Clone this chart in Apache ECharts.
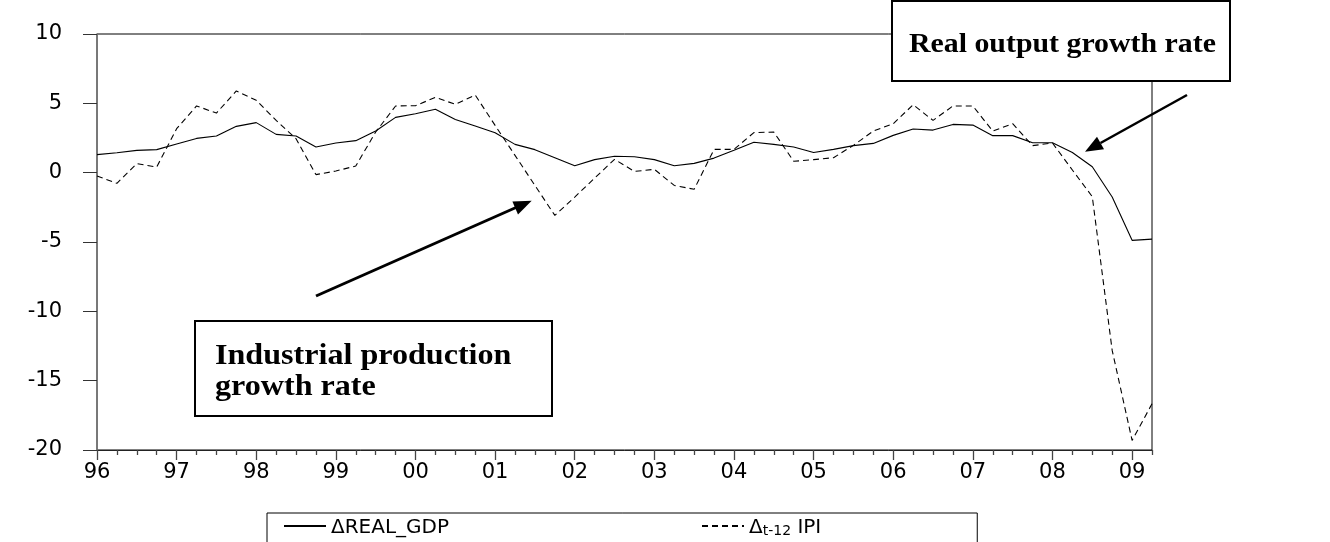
<!DOCTYPE html>
<html><head><meta charset="utf-8">
<script src="https://cdn.jsdelivr.net/npm/echarts@6/dist/echarts.min.js"></script>
<style>html,body{margin:0;padding:0;background:#fff}#c{width:1330px;height:542px}</style>
</head><body><div id="c"></div>
<script>
// Quarterly data, 1996Q1 .. 2009Q2
const yearLabels = ['96','97','98','99','00','01','02','03','04','05','06','07','08','09'];
const yTickValues = [-20, -15, -10, -5, 0, 5, 10];
const gdp = [1.30,1.44,1.61,1.66, 2.07,2.47,2.64,3.34, 3.61,2.76,2.64,1.85, 2.14,2.31,3.00,3.99,
             4.25,4.57,3.84,3.36, 2.88,2.04,1.66,1.08, 0.50,0.94,1.18,1.15, 0.94,0.50,0.67,1.05,
             1.61,2.19,2.04,1.85, 1.46,1.68,1.95,2.11, 2.69,3.15,3.07,3.48, 3.43,2.67,2.67,2.16,
             2.16,1.45,0.43,-1.76, -4.88,-4.79];
const ipi = [-0.24,-0.77,0.65,0.41, 3.17,4.81,4.30,5.89, 5.22,3.77,2.45,-0.14, 0.12,0.48,2.93,4.81,
             4.83,5.43,4.93,5.60, 3.41,1.25,-0.92,-3.08, -1.76,-0.39,0.96,0.09, 0.24,-0.92,-1.20,1.68,
             1.68,2.89,2.93,0.82, 0.94,1.08,1.97,3.00, 3.53,4.90,3.77,4.81, 4.81,3.00,3.53,1.95,
             2.14,0.19,-1.73,-12.82, -19.31,-16.67];
const seriesNames = ['ΔREAL_GDP', 'Δt-12 IPI'];

const nQ = gdp.length;
const majorTicks = [], minorTicks = [];
for (let i = 0; i < nQ; i++) { (i % 4 === 0 ? majorTicks : minorTicks).push(i); }

const chart = echarts.init(document.getElementById('c'), null, {renderer: 'canvas'});
const axisFont = 'DejaVu Sans';
const serif = '"Liberation Serif", "Times New Roman", serif';
const option = {
  backgroundColor: '#fff',
  animation: false,
  grid: {left: 97, right: 178, top: 34, bottom: 92, show: true, borderColor: '#000', borderWidth: 1, containLabel: false},
  xAxis: [{
    type: 'value', min: 0, max: nQ - 1, position: 'bottom',
    axisLine: {show: true, onZero: false, lineStyle: {color: '#222', width: 1}},
    axisTick: {show: true, length: 10, customValues: majorTicks, lineStyle: {color: '#444', width: 1.3}},
    axisLabel: {show: true, customValues: majorTicks, margin: 12, color: '#000', fontFamily: axisFont, fontSize: 21,
      formatter: v => yearLabels[Math.round(v / 4)]},
    splitLine: {show: false}
  }, {
    type: 'value', min: 0, max: nQ - 1, position: 'bottom',
    axisLine: {show: false, onZero: false},
    axisTick: {show: true, length: 5, customValues: minorTicks, lineStyle: {color: '#444', width: 1.3}},
    axisLabel: {show: false},
    splitLine: {show: false}
  }],
  yAxis: {
    type: 'value', min: yTickValues[0], max: yTickValues[yTickValues.length - 1], interval: 5,
    axisLine: {show: true, onZero: false, lineStyle: {color: '#777', width: 1.6}},
    axisTick: {show: true, length: 14, lineStyle: {color: '#333', width: 1}},
    axisLabel: {margin: 35, color: '#000', fontFamily: axisFont, fontSize: 21},
    splitLine: {show: false}
  },
  legend: {
    left: 267, top: 513,
    padding: [5, 156, 12, 16],
    itemWidth: 42, itemHeight: 14, itemGap: 252,
    borderColor: '#000', borderWidth: 1,
    itemStyle: {opacity: 0},
    data: seriesNames,
    formatter: function (name) {
      if (name === seriesNames[1]) return '{a|Δ}{s|t-12}{a| IPI}';
      return '{a|' + name + '}';
    },
    textStyle: {
      fontFamily: axisFont, fontSize: 20, color: '#000',
      rich: {
        a: {fontFamily: axisFont, fontSize: 20, lineHeight: 24, verticalAlign: 'bottom', color: '#000'},
        s: {fontFamily: axisFont, fontSize: 14, lineHeight: 14, verticalAlign: 'bottom', color: '#000'}
      }
    }
  },
  series: [{
    name: seriesNames[0], type: 'line', symbol: 'none', showSymbol: false,
    data: gdp.map((v, i) => [i, v]),
    lineStyle: {color: '#000', width: 1.1, type: 'solid'}, itemStyle: {color: '#000'}, z: 3
  }, {
    name: seriesNames[1], type: 'line', symbol: 'none', showSymbol: false,
    data: ipi.map((v, i) => [i, v]),
    lineStyle: {color: '#000', width: 1.1, type: [6, 4]}, itemStyle: {color: '#000'}, z: 3
  }],
  graphic: [
    {type: 'rect', z: 100, shape: {x: 892, y: 1, width: 338, height: 80}, style: {fill: '#fff', stroke: '#000', lineWidth: 2}},
    {type: 'text', z: 101, x: 909, y: 45, scaleX: 1.105, scaleY: 1,
      style: {text: 'Real output growth rate', font: 'bold 27px ' + serif, fill: '#000', textAlign: 'left', verticalAlign: 'middle'}},
    {type: 'rect', z: 100, shape: {x: 195, y: 321, width: 357, height: 95}, style: {fill: '#fff', stroke: '#000', lineWidth: 2}},
    {type: 'text', z: 101, x: 215, y: 356, scaleX: 1.07, scaleY: 1,
      style: {text: 'Industrial production', font: 'bold 30px ' + serif, fill: '#000', textAlign: 'left', verticalAlign: 'middle'}},
    {type: 'text', z: 101, x: 215, y: 387, scaleX: 1.07, scaleY: 1,
      style: {text: 'growth rate', font: 'bold 30px ' + serif, fill: '#000', textAlign: 'left', verticalAlign: 'middle'}},
    // arrow to industrial production line
    {type: 'line', z: 101, shape: {x1: 316, y1: 296, x2: 516, y2: 207.5}, style: {stroke: '#000', lineWidth: 3}},
    {type: 'polygon', z: 101, shape: {points: [[531.7, 200.7], [518.0, 214.4], [512.4, 201.6]]}, style: {fill: '#000'}},
    // arrow to real output line
    {type: 'line', z: 101, shape: {x1: 1187, y1: 95, x2: 1100.5, y2: 143}, style: {stroke: '#000', lineWidth: 2.5}},
    {type: 'polygon', z: 101, shape: {points: [[1085, 151.7], [1097, 136.8], [1104, 149.2]]}, style: {fill: '#000'}}
  ]
};
chart.setOption(option);
</script>
</body></html>
